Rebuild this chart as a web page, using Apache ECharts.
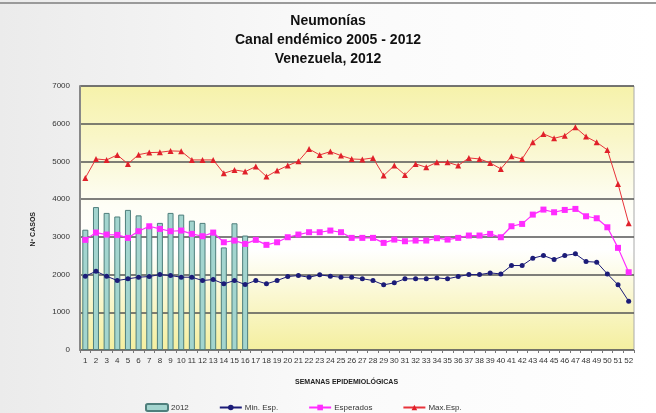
<!DOCTYPE html>
<html><head><meta charset="utf-8">
<script src="https://cdn.jsdelivr.net/npm/echarts@6/dist/echarts.min.js"></script>
<style>html,body{margin:0;padding:0;background:#fff}#c{width:656px;height:413px}</style>
</head><body><div id="c"></div>
<script>
const weeks = Array.from({length:52},(_,i)=>String(i+1));
const cases2012 = [3190,3790,3635,3540,3715,3570,3270,3370,3635,3590,3430,3370,3070,2720,3360,3035];
const minEsp = [1956,2088,1956,1842,1887,1930,1948,2000,1974,1930,1930,1842,1868,1754,1842,1736,1842,1754,1842,1948,1974,1930,1992,1956,1930,1930,1890,1842,1728,1780,1887,1887,1887,1912,1887,1948,2000,2000,2044,2017,2240,2240,2434,2505,2399,2505,2549,2346,2328,2017,1728,1294];
const esperados = [2920,3114,3061,3052,2973,3149,3281,3211,3149,3167,3079,3017,3114,2857,2902,2814,2920,2788,2857,2990,3061,3123,3123,3167,3123,2973,2973,2973,2840,2928,2884,2902,2902,2964,2928,2973,3035,3035,3079,2990,3281,3343,3590,3723,3652,3714,3741,3546,3493,3254,2708,2062];
const maxEsp = [4563,5066,5040,5172,4934,5180,5234,5242,5279,5270,5040,5040,5040,4686,4775,4730,4863,4598,4757,4890,5004,5331,5172,5260,5154,5066,5053,5093,4624,4890,4643,4934,4845,4977,4977,4890,5093,5066,4960,4802,5136,5066,5507,5729,5613,5684,5905,5658,5507,5305,4404,3361];
const yTicks = [0,1000,2000,3000,4000,5000,6000,7000];
const titleLines = ['Neumonías','Canal endémico 2005 - 2012','Venezuela, 2012'];

const chart = echarts.init(document.getElementById('c'), null, {renderer:'canvas'});
chart.setOption({
  animation:false,
  backgroundColor:{type:'linear',x:0,y:0,x2:1,y2:0,colorStops:[{offset:0,color:'#ebebeb'},{offset:0.5,color:'#fafafa'},{offset:1,color:'#ffffff'}]},
  title:{text:titleLines.join('\n'),left:'center',top:7,itemGap:0,
    textStyle:{fontFamily:'Liberation Sans',fontWeight:'bold',fontSize:14,lineHeight:19,color:'#111'}},
  graphic:[
    {type:'line',shape:{x1:0,y1:3,x2:656,y2:3},style:{stroke:'#9a9a9a',lineWidth:2}},
    {type:'text',left:295,top:379,style:{text:'SEMANAS EPIDEMIOLÓGICAS',font:'bold 7px Liberation Sans',fill:'#222'}},
    {type:'text',left:30,top:212,rotation:Math.PI/2,style:{text:'Nº CASOS',font:'bold 7px Liberation Sans',fill:'#222'}}
  ],
  grid:{left:80,right:22,top:86,bottom:63,show:true,borderColor:'#aaa',borderWidth:1,
    backgroundColor:{type:'linear',x:0,y:0,x2:0,y2:1,colorStops:[
      {offset:0,color:'#f6f2aa'},{offset:0.2,color:'#f9f6c8'},{offset:0.45,color:'#fefef6'},{offset:0.62,color:'#ffffff'},{offset:0.8,color:'#faf7cf'},{offset:1,color:'#f4ef9f'}]}},
  legend:{left:140,top:398,itemGap:30,itemWidth:22,itemHeight:7,
    textStyle:{fontFamily:'Liberation Sans',fontSize:8,color:'#333',padding:[0,0,0,-2]},
    data:['2012','Min. Esp.','Esperados','Max.Esp.']},
  xAxis:{type:'category',data:weeks,boundaryGap:true,
    axisLine:{lineStyle:{color:'#777'}},axisTick:{show:true,length:3,lineStyle:{color:'#777'}},
    axisLabel:{interval:0,fontFamily:'Liberation Sans',fontSize:8,color:'#333',margin:7}},
  yAxis:{type:'value',min:0,max:7000,interval:1000,
    axisLine:{show:true,lineStyle:{color:'#888',width:2}},axisTick:{show:false},
    axisLabel:{fontFamily:'Liberation Sans',fontSize:8,color:'#333',margin:10,
      formatter:v=>yTicks.includes(v)?String(v):''},
    splitLine:{lineStyle:{color:'#555',width:1.5}}},
  series:[
    {name:'2012',type:'bar',data:cases2012,barWidth:6,
      itemStyle:{color:'#a3d5cf',borderColor:'#4f7f7c',borderWidth:1}},
    {name:'Min. Esp.',type:'line',data:minEsp,symbol:'circle',symbolSize:5,
      lineStyle:{color:'#1c1c78',width:1},itemStyle:{color:'#1c1c78'}},
    {name:'Esperados',type:'line',data:esperados,symbol:'rect',symbolSize:6,
      lineStyle:{color:'#ff2cff',width:1.2},itemStyle:{color:'#ff2cff'}},
    {name:'Max.Esp.',type:'line',data:maxEsp,symbol:'triangle',symbolSize:6,
      lineStyle:{color:'#e8333a',width:1},itemStyle:{color:'#e0202a'}}
  ]
});
</script></body></html>
